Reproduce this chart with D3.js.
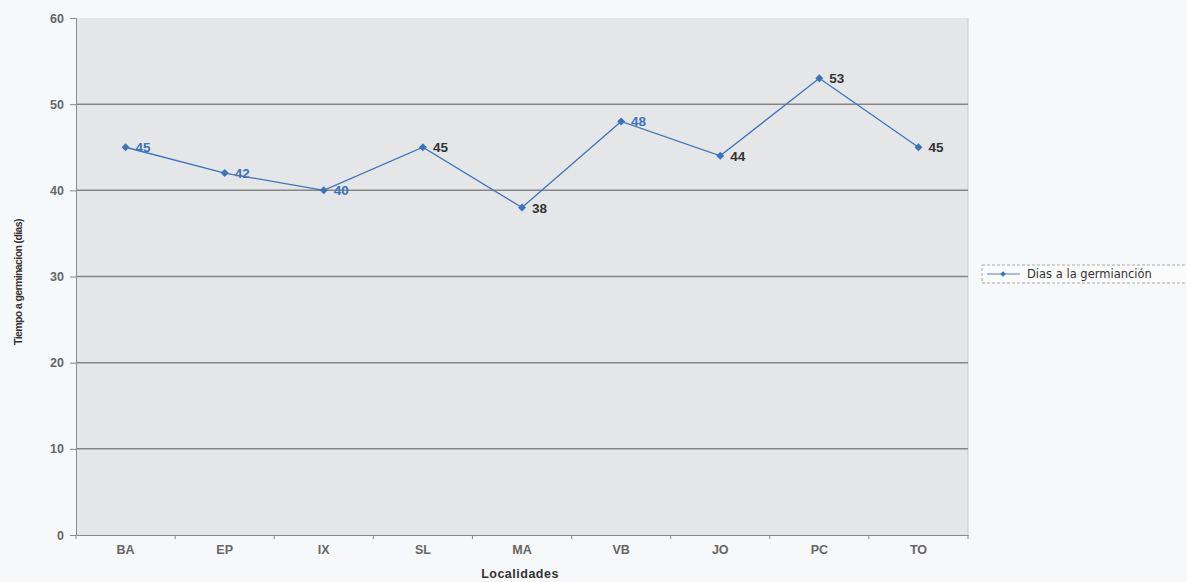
<!DOCTYPE html>
<html><head><meta charset="utf-8">
<script src="https://cdn.jsdelivr.net/npm/d3@7"></script>
<style>body{margin:0;background:#f7f8f9;}svg{display:block;font-family:"Liberation Sans",Arial,sans-serif;}</style>
</head><body><svg id="c" width="1187" height="582"></svg>
<script>
const categories = ["BA","EP","IX","SL","MA","VB","JO","PC","TO"];
const values = [45,42,40,45,38,48,44,53,45];
const yTicks = [0,10,20,30,40,50,60];
const labelBlue = [true,true,true,false,false,true,false,false,false];
const seriesName = "Dias a la germianción";

const svg = d3.select("#c");
const L=76, R=968, T=18, B=535;
const x = d3.scaleBand().domain(categories).range([L,R]);
const y = d3.scaleLinear().domain([0,60]).range([B,T]);
const blue = "#3b74bd";

svg.append("rect").attr("x",L).attr("y",T).attr("width",R-L).attr("height",B-T).attr("fill","#e4e6e8");
svg.append("line").attr("x1",R).attr("x2",R).attr("y1",T).attr("y2",B).attr("stroke","#c8c8c8");
svg.append("g").selectAll("line").data(yTicks.filter(d=>d>0&&d<60)).join("line")
  .attr("x1",L).attr("x2",R).attr("y1",d=>y(d)).attr("y2",d=>y(d))
  .attr("stroke","#858585").attr("stroke-width",1.5);

const ya = svg.append("g").attr("transform",`translate(${L},0)`)
  .call(d3.axisLeft(y).tickValues(yTicks).tickSize(6).tickPadding(6));
ya.select(".domain").attr("stroke","#8a8a8a");
ya.selectAll(".tick line").attr("stroke","#8a8a8a");
ya.selectAll("text").attr("fill","#666").attr("font-size",12.5).attr("font-weight","bold");

const xa = svg.append("g").attr("transform",`translate(0,${B})`)
  .call(d3.axisBottom(x).tickSize(0).tickPadding(10));
xa.select(".domain").attr("stroke","#8a8a8a");
xa.selectAll("text").attr("fill","#666").attr("font-size",12.5).attr("font-weight","bold");
svg.append("g").selectAll("line").data(d3.range(categories.length+1)).join("line")
  .attr("x1",i=>L+i*x.step()).attr("x2",i=>L+i*x.step()).attr("y1",B).attr("y2",B+4).attr("stroke","#8a8a8a");

const cx = d=>x(d)+x.bandwidth()/2;
svg.append("path").datum(values).attr("fill","none").attr("stroke",blue).attr("stroke-width",1.3)
  .attr("d",d3.line().x((d,i)=>cx(categories[i])).y(d=>y(d)));
svg.append("g").selectAll("path").data(values).join("path")
  .attr("d",d3.symbol(d3.symbolSquare,32))
  .attr("transform",(d,i)=>`translate(${cx(categories[i])},${y(d)}) rotate(45)`).attr("fill",blue);
svg.append("g").selectAll("text").data(values).join("text")
  .attr("x",(d,i)=>cx(categories[i])+10).attr("y",d=>y(d)+5)
  .attr("fill",(d,i)=>labelBlue[i]?blue:"#333").attr("font-size",13.5).attr("font-weight","bold").text(d=>d);

svg.append("text").attr("transform","translate(22,282) rotate(-90)").attr("text-anchor","middle")
  .attr("font-size",10.5).attr("font-weight","bold").attr("fill","#333").attr("letter-spacing","-0.6").text("Tiempo a germinacion (dias)");
svg.append("text").attr("x",520).attr("y",578).attr("text-anchor","middle").attr("font-size",12.5)
  .attr("font-weight","bold").attr("fill","#333").attr("letter-spacing","0.5").text("Localidades");

const lg = svg.append("g");
lg.append("rect").attr("x",982).attr("y",265).attr("width",215).attr("height",18).attr("fill","#fbfbfb").attr("stroke","#aaa").attr("stroke-dasharray","3,2");
lg.append("line").attr("x1",987).attr("x2",1020).attr("y1",274).attr("y2",274).attr("stroke","#8fa8d4").attr("stroke-width",1.3);
lg.append("path").attr("d",d3.symbol(d3.symbolSquare,16)).attr("transform","translate(1003,274) rotate(45)").attr("fill",blue);
lg.append("text").attr("x",1027).attr("y",278).attr("font-family","DejaVu Sans").attr("font-size",11.5).attr("fill","#333").text(seriesName);
</script></body></html>
